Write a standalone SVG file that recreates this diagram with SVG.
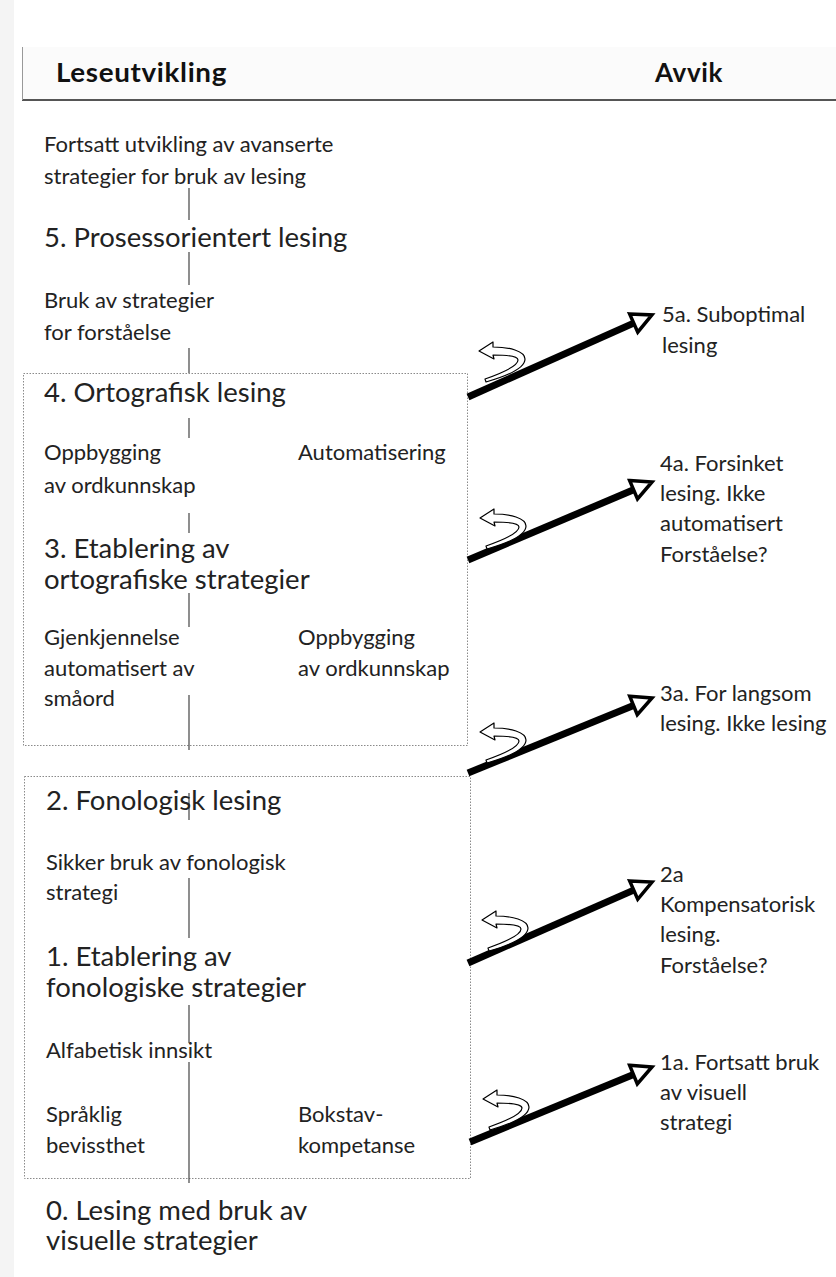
<svg xmlns="http://www.w3.org/2000/svg" xmlns:xlink="http://www.w3.org/1999/xlink" width="836" height="1277" viewBox="0 0 836 1277">
<defs>
<style>
.t{font-family:Lato,"Open Sans","DejaVu Sans",sans-serif;font-size:22px;fill:#222}
.h{font-size:27.5px}
.b{font-family:Lato,"Open Sans","DejaVu Sans",sans-serif;font-weight:bold;font-size:26px;fill:#111;letter-spacing:0.6px}
.v{stroke:#444;stroke-width:1.2}
.box{fill:none;stroke:#8a8a8a;stroke-width:1;stroke-dasharray:1.5 1.5}
.arr{stroke:#000;stroke-width:7;fill:none;marker-end:url(#ah)}
.ret{fill:#fff;stroke:#000;stroke-width:1.2;stroke-linejoin:round}
</style>
<linearGradient id="tg" x1="0" y1="0" x2="1" y2="0">
<stop offset="0" stop-color="#8fbf8f"/>
<stop offset="0.25" stop-color="#4a4a66"/>
<stop offset="0.5" stop-color="#6a8a5a"/>
<stop offset="0.75" stop-color="#444455"/>
<stop offset="1" stop-color="#6a9a6a"/>
</linearGradient>
<marker id="ah" markerUnits="userSpaceOnUse" markerWidth="30" markerHeight="30" viewBox="-5 -15 30 30" refX="0" refY="0" orient="auto">
<path d="M0,-10 L20,0 L0,10 Z" fill="#fff" stroke="#000" stroke-width="3.5" stroke-linejoin="miter"/>
</marker>
<path id="rt" d="M0,0 L14,-9 L14,-4 C30,-4 46,0 46,8 C46,17 28,25 7,31 L6,28 C26,21 39,14 39,9 C39,5 28,4 14,4 L15,8 Z"/>
</defs>
<rect x="0" y="0" width="836" height="1277" fill="#ffffff"/>
<rect x="0" y="0" width="14" height="1277" fill="#f4f4f4"/>

<g id="header">
<rect x="22" y="47" width="830" height="53" fill="#fbfbfb" stroke="none"/>
<line x1="22" y1="47.5" x2="836" y2="47.5" stroke="url(#tg)" stroke-width="2"/>
<line x1="22" y1="100" x2="836" y2="100" stroke="#555" stroke-width="2"/>
<line x1="22.5" y1="47" x2="22.5" y2="100" stroke="#999" stroke-width="1"/>
<text class="b" x="56" y="82" textLength="171" lengthAdjust="spacingAndGlyphs">Leseutvikling</text>
<text class="b" x="655" y="82">Avvik</text>
</g>

<g id="box-upper"><rect class="box" x="23.5" y="373.5" width="444" height="372"/></g>
<g id="box-lower"><rect class="box" x="24.5" y="776.5" width="446" height="402"/></g>

<g id="connectors">
<line class="v" x1="189" y1="188" x2="189" y2="220"/>
<line class="v" x1="189" y1="252" x2="189" y2="285"/>
<line class="v" x1="189" y1="348" x2="189" y2="373"/>
<line class="v" x1="189" y1="418" x2="189" y2="438"/>
<line class="v" x1="189" y1="513" x2="189" y2="533"/>
<line class="v" x1="189" y1="593" x2="189" y2="627"/>
<line class="v" x1="189" y1="695" x2="189" y2="750"/>
<line class="v" x1="189" y1="793" x2="189" y2="820"/>
<line class="v" x1="189" y1="878" x2="189" y2="938"/>
<line class="v" x1="189" y1="1005" x2="189" y2="1043"/>
<line class="v" x1="189" y1="1062" x2="189" y2="1183"/>
<path class="arr" d="M468,397 L633.7,323.1"/>
<path class="arr" d="M468,560 L633.6,489.8"/>
<path class="arr" d="M468,773 L633.5,705.5"/>
<path class="arr" d="M468,963 L633.7,890.1"/>
<path class="arr" d="M470,1142 L633.5,1074.6"/>
<use xlink:href="#rt" class="ret" transform="translate(479,351)"/>
<use xlink:href="#rt" class="ret" transform="translate(480,518)"/>
<use xlink:href="#rt" class="ret" transform="translate(480,732)"/>
<use xlink:href="#rt" class="ret" transform="translate(482,920)"/>
<use xlink:href="#rt" class="ret" transform="translate(483,1099)"/>
</g>

<g id="n-fortsatt"><text class="t" x="44" y="152">Fortsatt utvikling av avanserte</text><text class="t" x="44" y="184">strategier for bruk av lesing</text></g>
<g id="n-5"><text class="t h" x="44" y="247">5. Prosessorientert lesing</text></g>
<g id="n-bruk"><text class="t" x="44" y="308">Bruk av strategier</text><text class="t" x="44" y="340">for forståelse</text></g>
<g id="n-4"><text class="t h" x="44" y="402">4. Ortografisk lesing</text></g>
<g id="n-oppb1"><text class="t" x="44" y="460">Oppbygging</text><text class="t" x="44" y="493">av ordkunnskap</text></g>
<g id="n-auto"><text class="t" x="298" y="460">Automatisering</text></g>
<g id="n-3"><text class="t h" x="44" y="558">3. Etablering av</text><text class="t h" x="44" y="589">ortografiske strategier</text></g>
<g id="n-gjenk"><text class="t" x="44" y="645">Gjenkjennelse</text><text class="t" x="44" y="676">automatisert av</text><text class="t" x="44" y="706">småord</text></g>
<g id="n-oppb2"><text class="t" x="298" y="645">Oppbygging</text><text class="t" x="298" y="676">av ordkunnskap</text></g>
<g id="n-2"><text class="t h" x="46" y="810">2. Fonologisk lesing</text></g>
<g id="n-sikker"><text class="t" x="46" y="870">Sikker bruk av fonologisk</text><text class="t" x="46" y="900">strategi</text></g>
<g id="n-1"><text class="t h" x="46" y="966">1. Etablering av</text><text class="t h" x="46" y="997">fonologiske strategier</text></g>
<g id="n-alfa"><text class="t" x="46" y="1058">Alfabetisk innsikt</text></g>
<g id="n-spraak"><text class="t" x="46" y="1122">Språklig</text><text class="t" x="46" y="1153">bevissthet</text></g>
<g id="n-bokstav"><text class="t" x="298" y="1122">Bokstav-</text><text class="t" x="298" y="1153">kompetanse</text></g>
<g id="n-0"><text class="t h" x="46" y="1220">0. Lesing med bruk av</text><text class="t h" x="46" y="1250">visuelle strategier</text></g>

<g id="n-5a"><text class="t" x="662" y="322">5a. Suboptimal</text><text class="t" x="662" y="353">lesing</text></g>
<g id="n-4a"><text class="t" x="660" y="471">4a. Forsinket</text><text class="t" x="660" y="501">lesing. Ikke</text><text class="t" x="660" y="531">automatisert</text><text class="t" x="660" y="562">Forståelse?</text></g>
<g id="n-3a"><text class="t" x="660" y="701">3a. For langsom</text><text class="t" x="660" y="731">lesing. Ikke lesing</text></g>
<g id="n-2a"><text class="t" x="660" y="882">2a</text><text class="t" x="660" y="912">Kompensatorisk</text><text class="t" x="660" y="942">lesing.</text><text class="t" x="660" y="973">Forståelse?</text></g>
<g id="n-1a"><text class="t" x="660" y="1070">1a. Fortsatt bruk</text><text class="t" x="660" y="1100">av visuell</text><text class="t" x="660" y="1130">strategi</text></g>
</svg>
